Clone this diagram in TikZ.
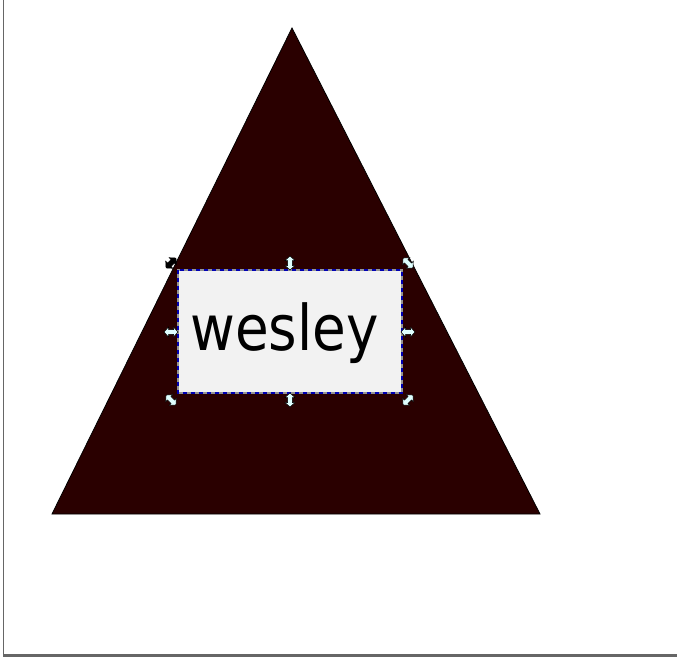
\documentclass[tikz,border=0pt]{standalone}
\usepackage{fontspec}
\newfontfamily\dejavu{DejaVu Sans}
\definecolor{tri}{HTML}{2A0000}
\definecolor{boxfill}{HTML}{F2F2F2}
\definecolor{frame}{HTML}{666666}
\definecolor{handle}{HTML}{E0FFFF}
\tikzset{
  handlepath/.style={draw=black,line width=0.5pt,line join=miter},
  pics/handlelight/.style={code={
    \filldraw[handlepath,fill=handle]
      (-7,0) -- (-2.5,5) -- (-2.5,2.4) -- (2.5,2.4) -- (2.5,5) -- (7,0)
      -- (2.5,-5) -- (2.5,-2.4) -- (-2.5,-2.4) -- (-2.5,-5) -- cycle;
  }},
  pics/handledark/.style={code={
    \filldraw[handlepath,fill=black]
      (-7,0) -- (-2.5,5) -- (-2.5,2.4) -- (2.5,2.4) -- (2.5,5) -- (7,0)
      -- (2.5,-5) -- (2.5,-2.4) -- (-2.5,-2.4) -- (-2.5,-5) -- cycle;
  }}
}
\begin{document}
\begin{tikzpicture}[x=1pt,y=-1pt]
\useasboundingbox (0,0) rectangle (677,658);
\fill[white] (0,0) rectangle (677,658);
% frame lines
\fill[frame] (2.5,0) rectangle (4,656);
\fill[frame] (2.5,653.5) rectangle (677,657);
% triangle
\filldraw[fill=tri,draw=black,line width=0.8pt] (292,28) -- (540,514) -- (52,514) -- cycle;
% text box
\fill[boxfill] (178,270) rectangle (402,393);
\draw[frame!70,line width=1.2pt] (178,270) rectangle (402,393);
\draw[blue!70!black,line width=1.2pt,dash pattern=on 4pt off 4pt] (178,270) rectangle (402,393);
\node[anchor=base,inner sep=0pt,font=\dejavu\fontsize{63}{70}\selectfont] (word) at (284.5,350) {\scalebox{0.87}[1]{wesley}};
% handles
\pic[rotate=45] at (171,263) {handledark};
\pic[rotate=-45] at (408,263) {handlelight};
\pic[rotate=-45] at (171,400) {handlelight};
\pic[rotate=45] at (408,400) {handlelight};
\pic[rotate=90] at (290,263) {handlelight};
\pic[rotate=90] at (290,400) {handlelight};
\pic at (171,332) {handlelight};
\pic at (408,332) {handlelight};
\end{tikzpicture}
\end{document}
